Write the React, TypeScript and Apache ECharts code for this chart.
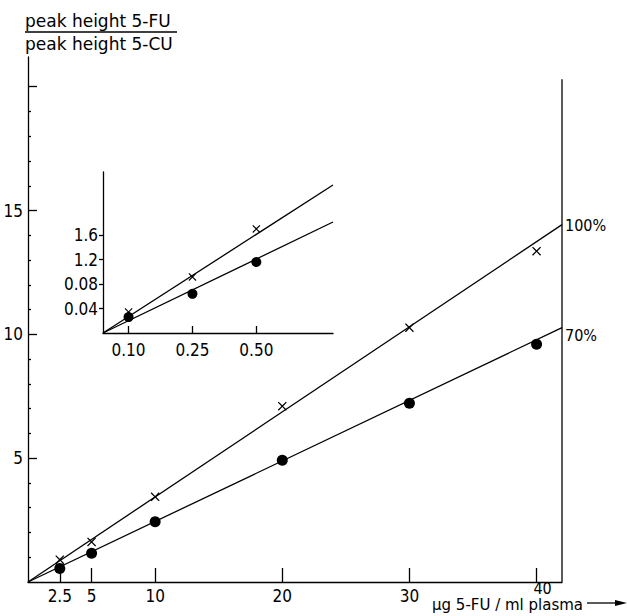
import React, { useEffect, useRef } from "react";
import * as echarts from "echarts";

// ---- main chart data ----
const xTickValues = [2.5, 5, 10, 20, 30, 40];
const xLabelLow = [2.5, 5, 10, 20, 30];
const xLabelHigh = [40];
const crossValues = [0.9, 1.62, 3.44, 7.1, 10.27, 13.36]; // 100 %
const dotValues = [0.55, 1.16, 2.43, 4.92, 7.22, 9.6]; // 70 %
const fit100 = [[0, 0], [42, 14.43]];
const fit70 = [[0, 0], [42, 10.27]];
const frameLine = [[42, 0], [42, 20.3]];
const yMajorTicks = [5, 10, 15, 20];
const yLabelValues = [5, 10, 15];
const yMinorTicks = [1, 2, 3, 4, 6, 7, 8, 9, 11, 12, 13, 14, 16, 17, 18, 19];

// ---- inset data ----
const insetXLabels = ["0.10", "0.25", "0.50"];
const insetXPos = [1, 3.5, 6];
const insetYTicks = [0.04, 0.08, 0.12, 0.16];
const insetYLabels = ["0.04", "0.08", "1.2", "1.6"];
const insetCross = [0.0344, 0.0916, 0.17];
const insetDot = [0.026, 0.064, 0.116];
const insetFitUpper = [[0, 0], [9, 0.2416]];
const insetFitLower = [[0, 0], [9, 0.1812]];

const TEXT_FONT = '"DejaVu Sans", sans-serif';
const NUM_FONT = '"Liberation Sans Narrow", "DejaVu Sans Condensed", sans-serif';
const PCT_FONT = '"DejaVu Sans Condensed", "DejaVu Sans", sans-serif';
const CROSS =
  "path://M0,1L1,0L5,4L9,0L10,1L6,5L10,9L9,10L5,6L1,10L0,9L4,5Z";

export default function App() {
  const ref = useRef<HTMLDivElement>(null);
  useEffect(() => {
    document.body.style.margin = "0";
    const chart = echarts.init(ref.current!, null, {
      renderer: "svg",
      width: 627,
      height: 616,
    });
    const black = "#000";
    const lineStyle = { color: black, width: 1.3 };
    const numLabel = { fontSize: 17, color: black, fontFamily: NUM_FONT };
    const option: any = {
      animation: false,
      backgroundColor: "#fff",
      textStyle: { fontFamily: TEXT_FONT, color: black },
      grid: [
        { left: 28, right: 65, top: 57, bottom: 34 },
        { left: 103, top: 172, width: 230, height: 161 },
      ],
      xAxis: [
        {
          type: "value",
          gridIndex: 0,
          min: 0,
          max: 42,
          splitLine: { show: false },
          axisLine: { lineStyle },
          axisTick: {
            inside: true,
            length: 14,
            lineStyle,
            customValues: xTickValues,
          },
          axisLabel: {
            ...numLabel,
            customValues: xLabelLow,
            margin: 5,
          },
        },
        {
          type: "value",
          gridIndex: 0,
          min: 0,
          max: 42,
          position: "bottom",
          splitLine: { show: false },
          axisLine: { show: false },
          axisTick: { show: false },
          axisLabel: {
            ...numLabel,
            customValues: xLabelHigh,
            margin: 0,
            formatter: (v: number) => `{h|${v}}`,
            rich: {
              h: { ...numLabel, fontSize: 16, lineHeight: 12, padding: [0, 0, 0, 12] },
            },
          },
        },
        {
          type: "value",
          gridIndex: 1,
          min: 0,
          max: 9,
          splitLine: { show: false },
          axisLine: { lineStyle },
          axisTick: {
            inside: true,
            length: 7,
            lineStyle,
            customValues: insetXPos,
          },
          axisLabel: {
            ...numLabel,
            customValues: insetXPos,
            formatter: (v: number) => insetXLabels[insetXPos.indexOf(v)] ?? "",
            margin: 8,
          },
        },
      ],
      yAxis: [
        {
          type: "value",
          gridIndex: 0,
          min: 0,
          max: 21.2,
          splitLine: { show: false },
          axisLine: { lineStyle },
          axisTick: {
            inside: true,
            length: 9,
            lineStyle,
            customValues: yMajorTicks,
          },
          axisLabel: {
            ...numLabel,
            customValues: yLabelValues,
            margin: 5,
          },
        },
        {
          type: "value",
          gridIndex: 0,
          min: 0,
          max: 21.2,
          position: "left",
          splitLine: { show: false },
          axisLine: { show: false },
          axisTick: {
            inside: true,
            length: 3,
            lineStyle,
            customValues: yMinorTicks,
          },
          axisLabel: { show: false },
        },
        {
          type: "value",
          gridIndex: 1,
          min: 0,
          max: 0.2629,
          splitLine: { show: false },
          axisLine: { lineStyle },
          axisTick: {
            inside: false,
            length: 4,
            lineStyle,
            customValues: insetYTicks,
          },
          axisLabel: {
            ...numLabel,
            customValues: insetYTicks,
            formatter: (v: number) => {
              const i = insetYTicks.findIndex((t) => Math.abs(t - v) < 1e-9);
              return i >= 0 ? insetYLabels[i] : "";
            },
            margin: 5,
          },
        },
      ],
      series: [
        {
          type: "line",
          xAxisIndex: 0,
          yAxisIndex: 0,
          data: fit100,
          symbol: "none",
          lineStyle,
          endLabel: {
            show: true,
            formatter: "100%",
            fontSize: 16,
            color: black,
            fontFamily: PCT_FONT,
            distance: 3,
            offset: [0, 1],
          },
        },
        {
          type: "line",
          xAxisIndex: 0,
          yAxisIndex: 0,
          data: fit70,
          symbol: "none",
          lineStyle,
          endLabel: {
            show: true,
            formatter: "70%",
            fontSize: 16,
            color: black,
            fontFamily: PCT_FONT,
            distance: 3,
            offset: [0, 8],
          },
        },
        {
          type: "line",
          xAxisIndex: 0,
          yAxisIndex: 0,
          data: frameLine,
          symbol: "none",
          lineStyle,
        },
        {
          type: "scatter",
          xAxisIndex: 0,
          yAxisIndex: 0,
          data: xTickValues.map((x, i) => [x, crossValues[i]]),
          symbol: CROSS,
          symbolSize: 9,
          itemStyle: { color: black, opacity: 1 },
        },
        {
          type: "scatter",
          xAxisIndex: 0,
          yAxisIndex: 0,
          data: xTickValues.map((x, i) => [x, dotValues[i]]),
          symbol: "circle",
          symbolSize: 11,
          itemStyle: { color: black, opacity: 1 },
        },
        {
          type: "line",
          xAxisIndex: 2,
          yAxisIndex: 2,
          data: insetFitUpper,
          symbol: "none",
          lineStyle,
        },
        {
          type: "line",
          xAxisIndex: 2,
          yAxisIndex: 2,
          data: insetFitLower,
          symbol: "none",
          lineStyle,
        },
        {
          type: "scatter",
          xAxisIndex: 2,
          yAxisIndex: 2,
          data: insetXPos.map((x, i) => [x, insetCross[i]]),
          symbol: CROSS,
          symbolSize: 8,
          itemStyle: { color: black, opacity: 1 },
          z: 3,
        },
        {
          type: "scatter",
          xAxisIndex: 2,
          yAxisIndex: 2,
          data: insetXPos.map((x, i) => [x, insetDot[i]]),
          symbol: "circle",
          symbolSize: 10,
          itemStyle: { color: black, opacity: 1 },
          z: 2,
        },
      ],
      graphic: [
        {
          type: "text",
          style: {
            x: 25,
            y: 21,
            verticalAlign: "middle",
            text: "peak height 5-FU",
            font: `17px ${TEXT_FONT}`,
            fill: black,
          },
        },
        {
          type: "line",
          shape: { x1: 25, y1: 32, x2: 177, y2: 32 },
          style: { stroke: black, lineWidth: 1.5 },
        },
        {
          type: "text",
          style: {
            x: 25,
            y: 44,
            verticalAlign: "middle",
            text: "peak height 5-CU",
            font: `17px ${TEXT_FONT}`,
            fill: black,
          },
        },
        {
          type: "text",
          style: {
            x: 432,
            y: 605,
            verticalAlign: "middle",
            text: "µg 5-FU / ml plasma",
            font: `15px ${TEXT_FONT}`,
            fill: black,
          },
        },
        {
          type: "line",
          shape: { x1: 587, y1: 603, x2: 619, y2: 603 },
          style: { stroke: black, lineWidth: 1.3 },
        },
        {
          type: "polygon",
          shape: { points: [[627, 603], [615, 600], [615, 606]] },
          style: { fill: black },
        },
      ],
    };
    chart.setOption(option);
    return () => chart.dispose();
  }, []);
  return (
    <div
      ref={ref}
      style={{ position: "absolute", left: 0, top: 0, width: 627, height: 616 }}
    />
  );
}
